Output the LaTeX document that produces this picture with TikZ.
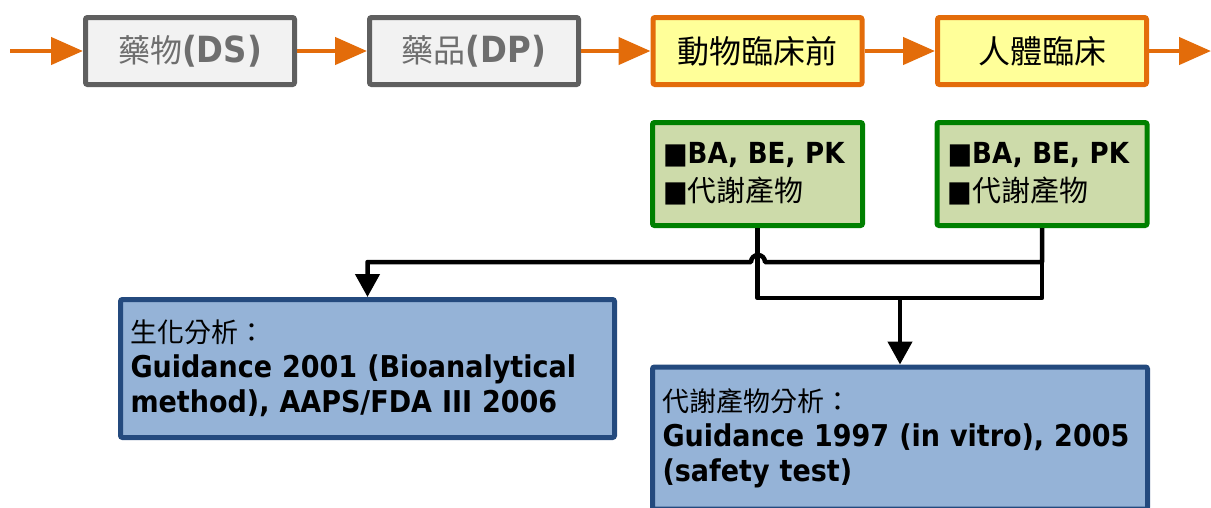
\documentclass[tikz,border=0pt]{standalone}
\usepackage{fontspec}
\setmainfont{DejaVu Sans Condensed}
\newfontfamily\cjk{Noto Sans CJK TC}
\usetikzlibrary{arrows.meta}
\definecolor{flowor}{HTML}{E36C0A}
\definecolor{stagegray}{HTML}{5F5F5F}
\definecolor{stagefill}{HTML}{F2F2F2}
\definecolor{textgray}{HTML}{6E6E6E}
\definecolor{clinicyellow}{HTML}{FFFF99}
\definecolor{assaygreen}{HTML}{008000}
\definecolor{assayfill}{HTML}{CDDBAA}
\definecolor{guideblue}{HTML}{244A7E}
\definecolor{guidefill}{HTML}{95B3D7}

\tikzset{
  stage/.style={draw=stagegray, fill=stagefill, line width=5pt, rounded corners=2pt,
    minimum width=209pt, minimum height=67pt, inner sep=0pt, text=textgray,
    font=\fontsize{36}{40}\selectfont},
  clinic/.style={stage, draw=flowor, fill=clinicyellow, text=black},
  assay/.style={draw=assaygreen, fill=assayfill, line width=5pt, rounded corners=2pt,
    minimum height=103pt, text width=189pt, inner xsep=10.5pt, inner ysep=0pt,
    align=left, font=\fontsize{29}{38}\selectfont},
  guide/.style={draw=guideblue, fill=guidefill, line width=5pt, rounded corners=2pt,
    inner xsep=10pt, inner ysep=0pt, align=left, font=\fontsize{30}{35}\selectfont},
  flow/.style={draw=flowor, line width=4.5pt, -{Triangle[length=32pt,width=27pt]}},
  wire/.style={draw=black, line width=4.5pt, line join=round},
  link/.style={wire, -{Triangle[length=23pt,width=24pt]}}
}

\begin{document}
\begin{tikzpicture}[x=1pt,y=-1pt]
\useasboundingbox (0,0) rectangle (1211,507);
\clip (0,0) rectangle (1211,507);

% stages
\node[stage] (ds) at (190,51) {{\cjk\fontsize{32}{40}\selectfont 藥物}\textbf{(DS)}};
\node[stage] (dp) at (474,51) {{\cjk\fontsize{32}{40}\selectfont 藥品}\textbf{(DP)}};
\node[clinic] (animal) at (757.5,51) {\cjk\fontsize{32}{40}\selectfont 動物臨床前};
\node[clinic] (human) at (1042,51) {\cjk\fontsize{32}{40}\selectfont 人體臨床};
\coordinate (in) at (10,51);
\coordinate (out) at (1211,51);

\draw[flow] (in) -- (ds);
\draw[flow] (ds) -- (dp);
\draw[flow] (dp) -- (animal);
\draw[flow] (animal) -- (human);
\draw[flow] (human) -- (out);

% assays
\node[assay] (pkA) at (757.5,174) {\textbf{■BA, BE, PK}\\■{\cjk 代謝產物}};
\node[assay] (pkB) at (1042,174) {\textbf{■BA, BE, PK}\\■{\cjk 代謝產物}};

% guidances
\node[guide, text width=474pt, minimum height=138pt] (bio) at (367.5,368.5)
  {{\cjk\fontsize{27}{35}\selectfont 生化分析：}\\
   \textbf{Guidance 2001 (Bioanalytical}\\
   \textbf{method), AAPS/FDA III 2006}};
\node[guide, text width=475pt, minimum height=142pt] (met) at (900,438)
  {{\cjk\fontsize{27}{35}\selectfont 代謝產物分析：}\\
   \textbf{Guidance 1997 (in vitro), 2005}\\
   \textbf{(safety test)}};

\coordinate (join) at (900,298);
\draw[wire] (pkA.south) |- (join) -| (pkB.south);
\draw[link] (join) -- (met.north);
\draw[link] (pkB.south) |- (765,262) arc[start angle=0, end angle=-180, radius=7] -| (bio.north);
\end{tikzpicture}
\end{document}
